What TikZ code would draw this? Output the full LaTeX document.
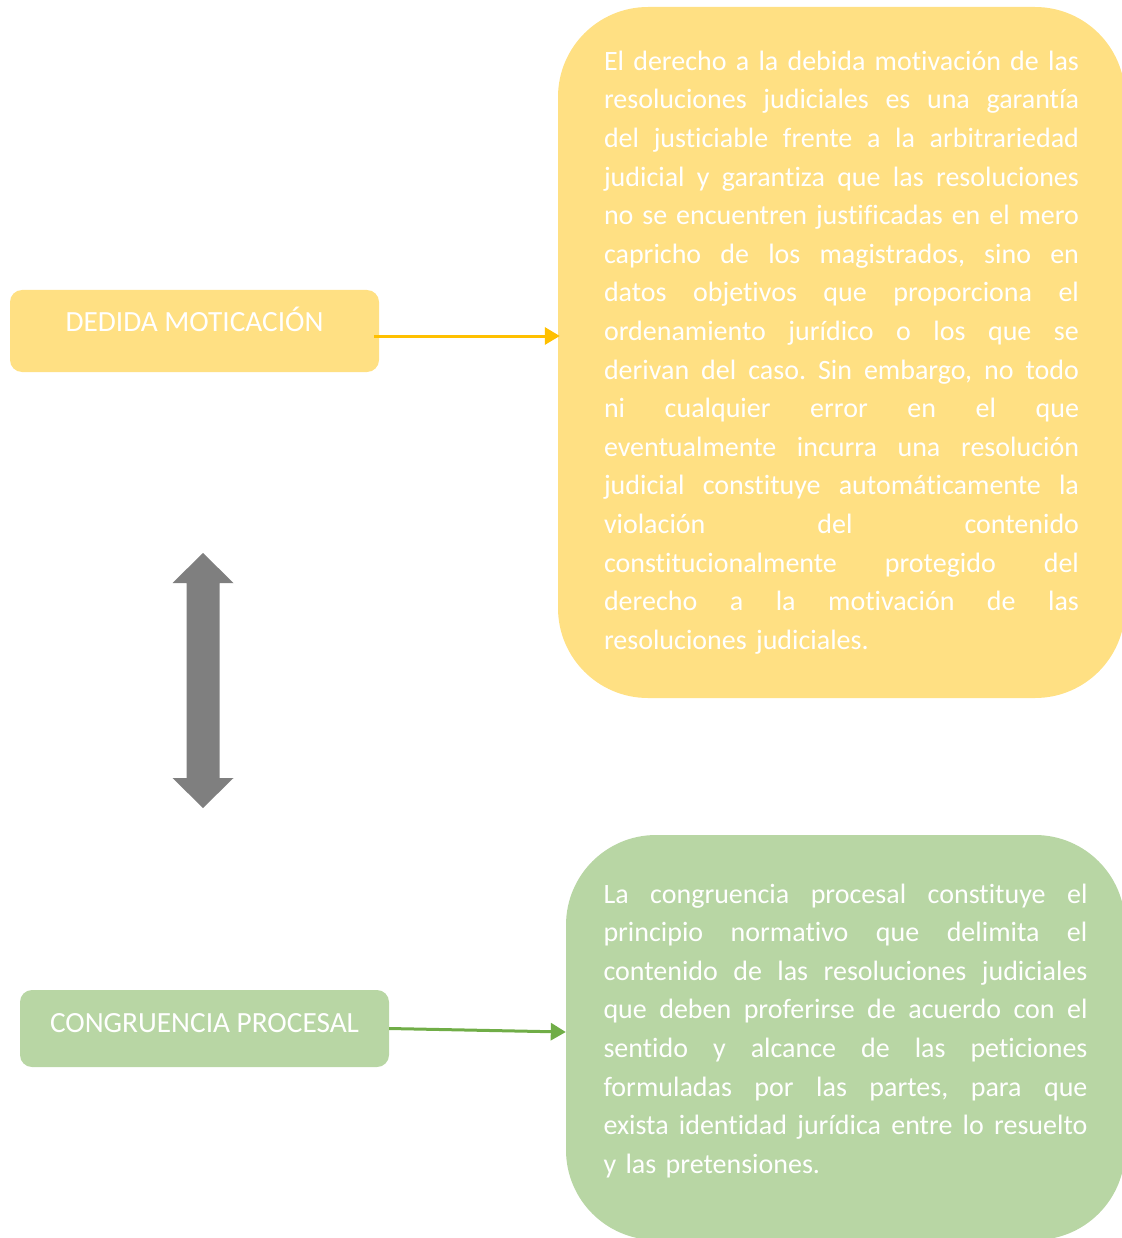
\documentclass[tikz,border=0pt]{standalone}
\usepackage{fontspec}
\setmainfont{Carlito}[Ligatures={NoCommon}]
\usepackage{tikz}
\usetikzlibrary{arrows.meta}
\definecolor{amarillo}{HTML}{FFE083}
\definecolor{verde}{HTML}{B8D6A4}
\definecolor{dorado}{HTML}{FFC000}
\definecolor{verdeosc}{HTML}{70AD47}
\definecolor{gris}{HTML}{7F7F7F}
\newcommand{\lj}[2][475pt]{{\frenchspacing\spaceskip=0.226em plus 1fil\relax\makebox[#1][s]{#2}}}
\newcommand{\lu}[2][475pt]{{\frenchspacing\makebox[#1][l]{#2}}}
\tikzstyle{etiqueta} = [rectangle, rounded corners=12pt, text=white, minimum width=369pt, font=\fontsize{29.3}{34}\selectfont]
\tikzstyle{cuadro} = [rectangle, rounded corners=90pt, text=white, align=left, font=\fontsize{28}{38.6}\selectfont]
\tikzstyle{flecha} = [line width=3pt, -{Triangle[length=15pt,width=17pt]}]

\begin{document}
\begin{tikzpicture}[x=1pt, y=-1pt]
	\useasboundingbox (0,0) rectangle (1121,1238);
	\node [etiqueta, fill=amarillo, minimum height=82pt, text height=20pt, text depth=20pt] (dedida) at (194.5,331) {DEDIDA MOTICACIÓN};
	\node [cuadro, fill=amarillo, text width=475pt, minimum width=567pt, minimum height=691pt] (motivacion) at (841.5,352.5) {%
		\lj{El derecho a la debida motivación de las}\\
		\lj{resoluciones judiciales es una garantía}\\
		\lj{del justiciable frente a la arbitrariedad}\\
		\lj{judicial y garantiza que las resoluciones}\\
		\lj{no se encuentren justificadas en el mero}\\
		\lj{capricho de los magistrados, sino en}\\
		\lj{datos objetivos que proporciona el}\\
		\lj{ordenamiento jurídico o los que se}\\
		\lj{derivan del caso. Sin embargo, no todo}\\
		\lj{ni cualquier error en el que}\\
		\lj{eventualmente incurra una resolución}\\
		\lj{judicial constituye automáticamente la}\\
		\lj{violación del contenido}\\
		\lj{constitucionalmente protegido del}\\
		\lj{derecho a la motivación de las}\\
		\lu{resoluciones judiciales.}};
	\node [etiqueta, fill=verde, minimum height=77pt, text height=20pt, text depth=13pt] (congruencia) at (204.5,1028.5) {CONGRUENCIA PROCESAL};
	\node [cuadro, fill=verde, text width=484pt, minimum width=559pt, minimum height=405pt] (procesal) at (845.5,1037.5) {%
		\lj[484pt]{La congruencia procesal constituye el}\\
		\lj[484pt]{principio normativo que delimita el}\\
		\lj[484pt]{contenido de las resoluciones judiciales}\\
		\lj[484pt]{que deben proferirse de acuerdo con el}\\
		\lj[484pt]{sentido y alcance de las peticiones}\\
		\lj[484pt]{formuladas por las partes, para que}\\
		\lj[484pt]{exista identidad jurídica entre lo resuelto}\\
		\lu[484pt]{y las pretensiones.}\rule[-18pt]{0pt}{0pt}};
	% flechas
	\draw [flecha, dorado] ([xshift=-5pt,yshift=-5pt]dedida.east) -- ([xshift=2pt,yshift=-5pt]dedida.east -| motivacion.west);
	\draw [flecha, verdeosc] (congruencia.east) -- ([yshift=5.5pt]procesal.west);
	\fill [gris] (203,553) -- (233.5,583) -- (219.5,583) -- (219.5,778) -- (233.5,778) -- (203,808)
		-- (172.5,778) -- (186.5,778) -- (186.5,583) -- (172.5,583) -- cycle;
\end{tikzpicture}
\end{document}
